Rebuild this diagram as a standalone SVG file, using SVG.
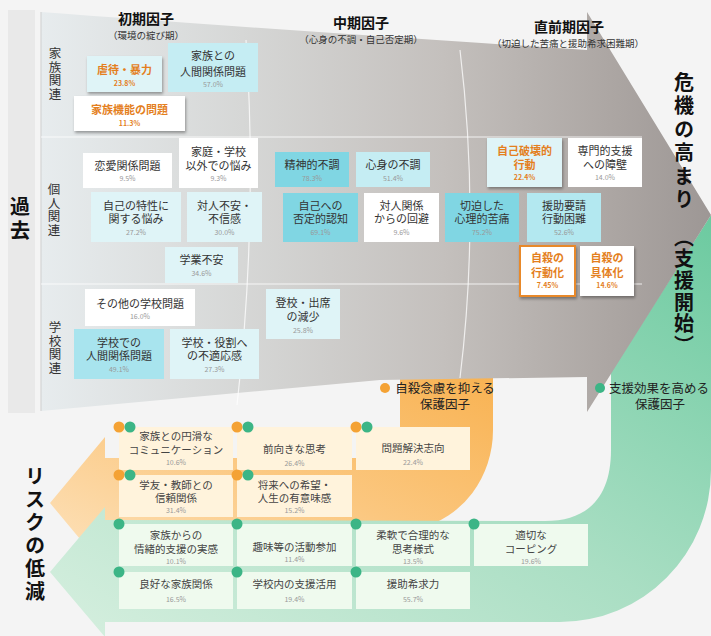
<svg xmlns="http://www.w3.org/2000/svg" width="711" height="636" viewBox="0 0 711 636">
<defs>
<linearGradient id="gg" x1="0" y1="0" x2="1" y2="0">
<stop offset="0" stop-color="#e7ecee"/>
<stop offset="0.3" stop-color="#d6d7d6"/>
<stop offset="0.6" stop-color="#c4c0bd"/>
<stop offset="0.85" stop-color="#aca6a3"/>
<stop offset="1" stop-color="#9d9795"/>
</linearGradient>
<linearGradient id="og" x1="1" y1="0" x2="0" y2="1">
<stop offset="0" stop-color="#f8b14f"/>
<stop offset="0.5" stop-color="#fbc77f"/>
<stop offset="1" stop-color="#fde3be"/>
</linearGradient>
<linearGradient id="gr" x1="1" y1="0" x2="0" y2="1">
<stop offset="0" stop-color="#6ccaa0"/>
<stop offset="0.5" stop-color="#a9dec3"/>
<stop offset="1" stop-color="#d6efdf"/>
</linearGradient>
<filter id="sh" x="-20%" y="-20%" width="150%" height="160%">
<feDropShadow dx="1" dy="2" stdDeviation="1.5" flood-color="#000" flood-opacity="0.35"/>
</filter>
<style>
text{font-family:'Noto Sans CJK JP','Noto Sans',sans-serif;text-anchor:middle;fill:#333}
.l{font-size:11px}
.p{font-size:7px;fill:#999}
.o{fill:#e47f1e;font-weight:bold}
.hd{font-size:14px;font-weight:bold;fill:#111}
.sb{font-size:9.5px;fill:#333}
.vt{writing-mode:vertical-rl;text-anchor:start}
.big{font-size:20px;font-weight:bold;fill:#111}
.rl{font-size:12.5px;letter-spacing:1px;fill:#333}
.pl{font-size:10.5px;fill:#444}
.pf{font-size:12.5px;fill:#222}
.cy0{fill:#dff4f7}
.cy1{fill:#c5edf3}
.cy2{fill:#80d6e3}
.wh{fill:#fff}
.po{fill:#fff3dc}
.pg{fill:#effaee}
.do{fill:#f4a234}
.dg{fill:#3cb586}
.div{fill:none;stroke:#fff;stroke-opacity:0.75;stroke-width:1.2}
</style>
</defs>
<rect width="711" height="636" fill="#f4f4f4"/>

<g id="connectors">
<path id="orange-band" d="M400,360 L493,360 L493,430 A93,100 0 0 1 419,528 L105,528 L105,569 L50,503 L105,437 L105,458 L400,458 Z" fill="url(#og)"/>
<path id="green-band" d="M611,372 L711,215 L711,470 A151,152 0 0 1 560,622 L105,622 L105,637 L50,572 L105,507 L105,520 L545,521 C590,521 611,495 611,450 Z" fill="url(#gr)"/>
<path id="gray-arrow" d="M41,12 Q250,28 587,50 L587,12 L711,215 L587,412 L587,377 L380,380 L41,411 Z" fill="url(#gg)"/>
</g>

<rect x="8" y="10" width="27" height="403" fill="#e9e9e9"/>
<line x1="41" y1="12" x2="41" y2="411" stroke="#cfcfcf" stroke-width="1"/>
<line x1="41" y1="137" x2="642" y2="137" stroke="#fff" stroke-opacity="0.8"/>
<line x1="41" y1="284" x2="642" y2="284" stroke="#fff" stroke-opacity="0.8"/>
<path class="div" d="M246,40 Q258,220 237,405"/>
<path class="div" d="M460,50 Q480,215 460,378"/>

<g id="headers">
<text class="hd" x="146" y="24">初期因子</text>
<text class="sb" x="146" y="38.5">（環境の綻び期）</text>
<text class="hd" x="361" y="28">中期因子</text>
<text class="sb" x="361" y="43">（心身の不調・自己否定期）</text>
<text class="hd" x="569" y="31.5">直前期因子</text>
<text class="sb" x="568" y="47">（切迫した苦痛と援助希求困難期）</text>
</g>

<text class="vt big" x="20" y="196" style="letter-spacing:4px">過去</text>
<text class="vt big" x="684" y="72" style="letter-spacing:3.5px">危機の高まり</text>
<text class="vt big" x="684" y="227" style="letter-spacing:1.7px">（支援開始）</text>
<text class="vt big" x="35" y="466" style="letter-spacing:3px">リスクの低減</text>
<text class="vt rl" x="55" y="47">家族関連</text>
<text class="vt rl" x="54" y="183">個人関連</text>
<text class="vt rl" x="55" y="321">学校関連</text>

<g id="n1"><rect class="cy0" x="87" y="56" width="75" height="36" filter="url(#sh)"/><text class="l o" x="124.5" y="74.2">虐待・暴力</text><text class="p o" x="124.5" y="85.7">23.8%</text></g>
<g id="n2"><rect class="cy1" x="168" y="43" width="90" height="49"/><text class="l" x="213" y="60">家族との<tspan x="213" dy="15.5">人間関係問題</tspan></text><text class="p" x="213" y="87.2">57.0%</text></g>
<g id="n3"><rect class="wh" x="74" y="96" width="111" height="35" filter="url(#sh)"/><text class="l o" x="129.5" y="114.2">家族機能の問題</text><text class="p o" x="129.5" y="125.7">11.3%</text></g>

<g id="n4"><rect class="wh" x="83" y="153" width="89" height="35"/><text class="l" x="127.5" y="169.5">恋愛関係問題</text><text class="p" x="127.5" y="181.2">9.5%</text></g>
<g id="n5"><rect class="wh" x="179" y="138" width="79" height="50"/><text class="l" x="218.5" y="156.4">家庭・学校<tspan x="218.5" dy="13.4">以外での悩み</tspan></text><text class="p" x="218.5" y="181.4">9.3%</text></g>
<g id="n6"><rect class="cy0" x="91" y="192" width="90" height="50"/><text class="l" x="136" y="209.8">自己の特性に<tspan x="136" dy="13.4">関する悩み</tspan></text><text class="p" x="136" y="234.8">27.2%</text></g>
<g id="n7"><rect class="cy0" x="187" y="192" width="75" height="50"/><text class="l" x="224.5" y="209.8">対人不安・<tspan x="224.5" dy="13.4">不信感</tspan></text><text class="p" x="224.5" y="234.8">30.0%</text></g>
<g id="n8"><rect class="cy0" x="165" y="247" width="73" height="36"/><text class="l" x="201.5" y="264">学業不安</text><text class="p" x="201.5" y="275.7">34.6%</text></g>
<g id="n9"><rect class="cy2" x="275" y="152" width="74" height="35"/><text class="l" x="312" y="169.2">精神的不調</text><text class="p" x="312" y="180.7">78.3%</text></g>
<g id="n10"><rect class="cy1" x="356" y="152" width="74" height="35"/><text class="l" x="393" y="169.2">心身の不調</text><text class="p" x="393" y="180.7">51.4%</text></g>
<g id="n11"><rect class="cy2" x="283" y="193" width="75" height="49"/><text class="l" x="320.5" y="209.8">自己への<tspan x="320.5" dy="13.4">否定的認知</tspan></text><text class="p" x="320.5" y="234.8">69.1%</text></g>
<g id="n12"><rect class="wh" x="364" y="193" width="75" height="49"/><text class="l" x="401.5" y="209.8">対人関係<tspan x="401.5" dy="13.4">からの回避</tspan></text><text class="p" x="401.5" y="234.8">9.6%</text></g>
<g id="n13"><rect class="cy2" x="445" y="193" width="74" height="49"/><text class="l" x="482" y="209.8">切迫した<tspan x="482" dy="13.4">心理的苦痛</tspan></text><text class="p" x="482" y="234.8">75.2%</text></g>
<g id="n14"><rect fill="#b3e8f0" x="527" y="193" width="74" height="49"/><text class="l" x="564" y="209.8">援助要請<tspan x="564" dy="13.4">行動困難</tspan></text><text class="p" x="564" y="234.8">52.6%</text></g>
<g id="n15"><rect class="cy0" x="487" y="138" width="75" height="49" filter="url(#sh)"/><text class="l o" x="524.5" y="155.2">自己破壊的<tspan x="524.5" dy="13.4">行動</tspan></text><text class="p o" x="524.5" y="180">22.4%</text></g>
<g id="n16"><rect class="wh" x="568" y="138" width="74" height="49"/><text class="l" x="605" y="155.2">専門的支援<tspan x="605" dy="13.4">への障壁</tspan></text><text class="p" x="605" y="180">14.0%</text></g>
<g id="n17"><rect class="wh" x="520" y="246" width="55" height="50" stroke="#e8892a" stroke-width="2" filter="url(#sh)"/><text class="l o" x="547.5" y="261.5">自殺の<tspan x="547.5" dy="15">行動化</tspan></text><text class="p o" x="547.5" y="288">7.45%</text></g>
<g id="n18"><rect class="wh" x="580" y="246" width="54" height="50" filter="url(#sh)"/><text class="l o" x="607" y="261.5">自殺の<tspan x="607" dy="15">具体化</tspan></text><text class="p o" x="607" y="288">14.6%</text></g>

<g id="n19"><rect class="wh" x="85" y="289" width="110" height="37"/><text class="l" x="140" y="307.5">その他の学校問題</text><text class="p" x="140" y="319">16.0%</text></g>
<g id="n20"><rect fill="#a8e4ee" x="74" y="329" width="90" height="50"/><text class="l" x="119" y="346.5">学校での<tspan x="119" dy="13.5">人間関係問題</tspan></text><text class="p" x="119" y="371.5">49.1%</text></g>
<g id="n21"><rect class="cy0" x="170" y="329" width="89" height="50"/><text class="l" x="214.5" y="346.5">学校・役割へ<tspan x="214.5" dy="13.5">の不適応感</tspan></text><text class="p" x="214.5" y="371.5">27.3%</text></g>
<g id="n22"><rect class="cy0" x="266" y="289" width="74" height="50"/><text class="l" x="303" y="307.2">登校・出席<tspan x="303" dy="14">の減少</tspan></text><text class="p" x="303" y="332.7">25.8%</text></g>

<g id="legend-orange"><circle class="do" cx="385" cy="388" r="5"/><text class="pf" x="445" y="392.8">自殺念慮を抑える<tspan x="445" dy="16">保護因子</tspan></text></g>
<g id="legend-green"><circle class="dg" cx="600" cy="388" r="5"/><text class="pf" x="659" y="392.8">支援効果を高める<tspan x="660" dy="16">保護因子</tspan></text></g>

<g id="p1"><rect class="po" x="119" y="427" width="114" height="43"/><circle class="do" cx="119" cy="427" r="5.5"/><circle class="dg" cx="130" cy="427" r="5.5"/><text class="pl" x="176" y="440">家族との円滑な<tspan x="176" dy="13.5">コミュニケーション</tspan></text><text class="p" x="176" y="464.8">10.6%</text></g>
<g id="p2"><rect class="po" x="237" y="427" width="115" height="43"/><circle class="do" cx="237" cy="427" r="5.5"/><circle class="dg" cx="248" cy="427" r="5.5"/><text class="pl" x="294.5" y="453">前向きな思考</text><text class="p" x="294.5" y="465.5">26.4%</text></g>
<g id="p3"><rect class="po" x="356" y="427" width="114" height="43"/><circle class="do" cx="356" cy="427" r="5.5"/><circle class="dg" cx="367" cy="427" r="5.5"/><text class="pl" x="413" y="452">問題解決志向</text><text class="p" x="413" y="464.5">22.4%</text></g>
<g id="p4"><rect class="po" x="119" y="475" width="114" height="42"/><circle class="do" cx="119" cy="475" r="5.5"/><circle class="dg" cx="130" cy="475" r="5.5"/><text class="pl" x="176" y="488.8">学友・教師との<tspan x="176" dy="12.8">信頼関係</tspan></text><text class="p" x="176" y="513">31.4%</text></g>
<g id="p5"><rect class="po" x="237" y="475" width="115" height="42"/><circle class="do" cx="237" cy="475" r="5.5"/><circle class="dg" cx="248" cy="475" r="5.5"/><text class="pl" x="294.5" y="488.8">将来への希望・<tspan x="294.5" dy="12.8">人生の有意味感</tspan></text><text class="p" x="294.5" y="513">15.2%</text></g>

<g id="g1"><rect class="pg" x="119" y="524" width="114" height="42"/><circle class="dg" cx="119" cy="524" r="5.5"/><text class="pl" x="176" y="539">家族からの<tspan x="176" dy="13.5">情緒的支援の実感</tspan></text><text class="p" x="176" y="563.8">10.1%</text></g>
<g id="g2"><rect class="pg" x="237" y="524" width="115" height="42"/><circle class="dg" cx="237" cy="524" r="5.5"/><text class="pl" x="294.5" y="550.5">趣味等の活動参加</text><text class="p" x="294.5" y="562">11.4%</text></g>
<g id="g3"><rect class="pg" x="356" y="524" width="114" height="42"/><circle class="dg" cx="356" cy="524" r="5.5"/><text class="pl" x="413" y="539">柔軟で合理的な<tspan x="413" dy="13.5">思考様式</tspan></text><text class="p" x="413" y="563.8">13.5%</text></g>
<g id="g4"><rect class="pg" x="474" y="524" width="114" height="42"/><circle class="dg" cx="474" cy="524" r="5.5"/><text class="pl" x="531" y="539">適切な<tspan x="531" dy="13.5">コーピング</tspan></text><text class="p" x="531" y="563.8">19.6%</text></g>
<g id="g5"><rect class="pg" x="119" y="572" width="114" height="37"/><circle class="dg" cx="119" cy="572" r="5.5"/><text class="pl" x="176" y="588">良好な家族関係</text><text class="p" x="176" y="601.5">16.5%</text></g>
<g id="g6"><rect class="pg" x="237" y="572" width="115" height="37"/><circle class="dg" cx="237" cy="572" r="5.5"/><text class="pl" x="294.5" y="588">学校内の支援活用</text><text class="p" x="294.5" y="601.5">19.4%</text></g>
<g id="g7"><rect class="pg" x="356" y="572" width="114" height="37"/><circle class="dg" cx="356" cy="572" r="5.5"/><text class="pl" x="413" y="588">援助希求力</text><text class="p" x="413" y="601.5">55.7%</text></g>
</svg>
